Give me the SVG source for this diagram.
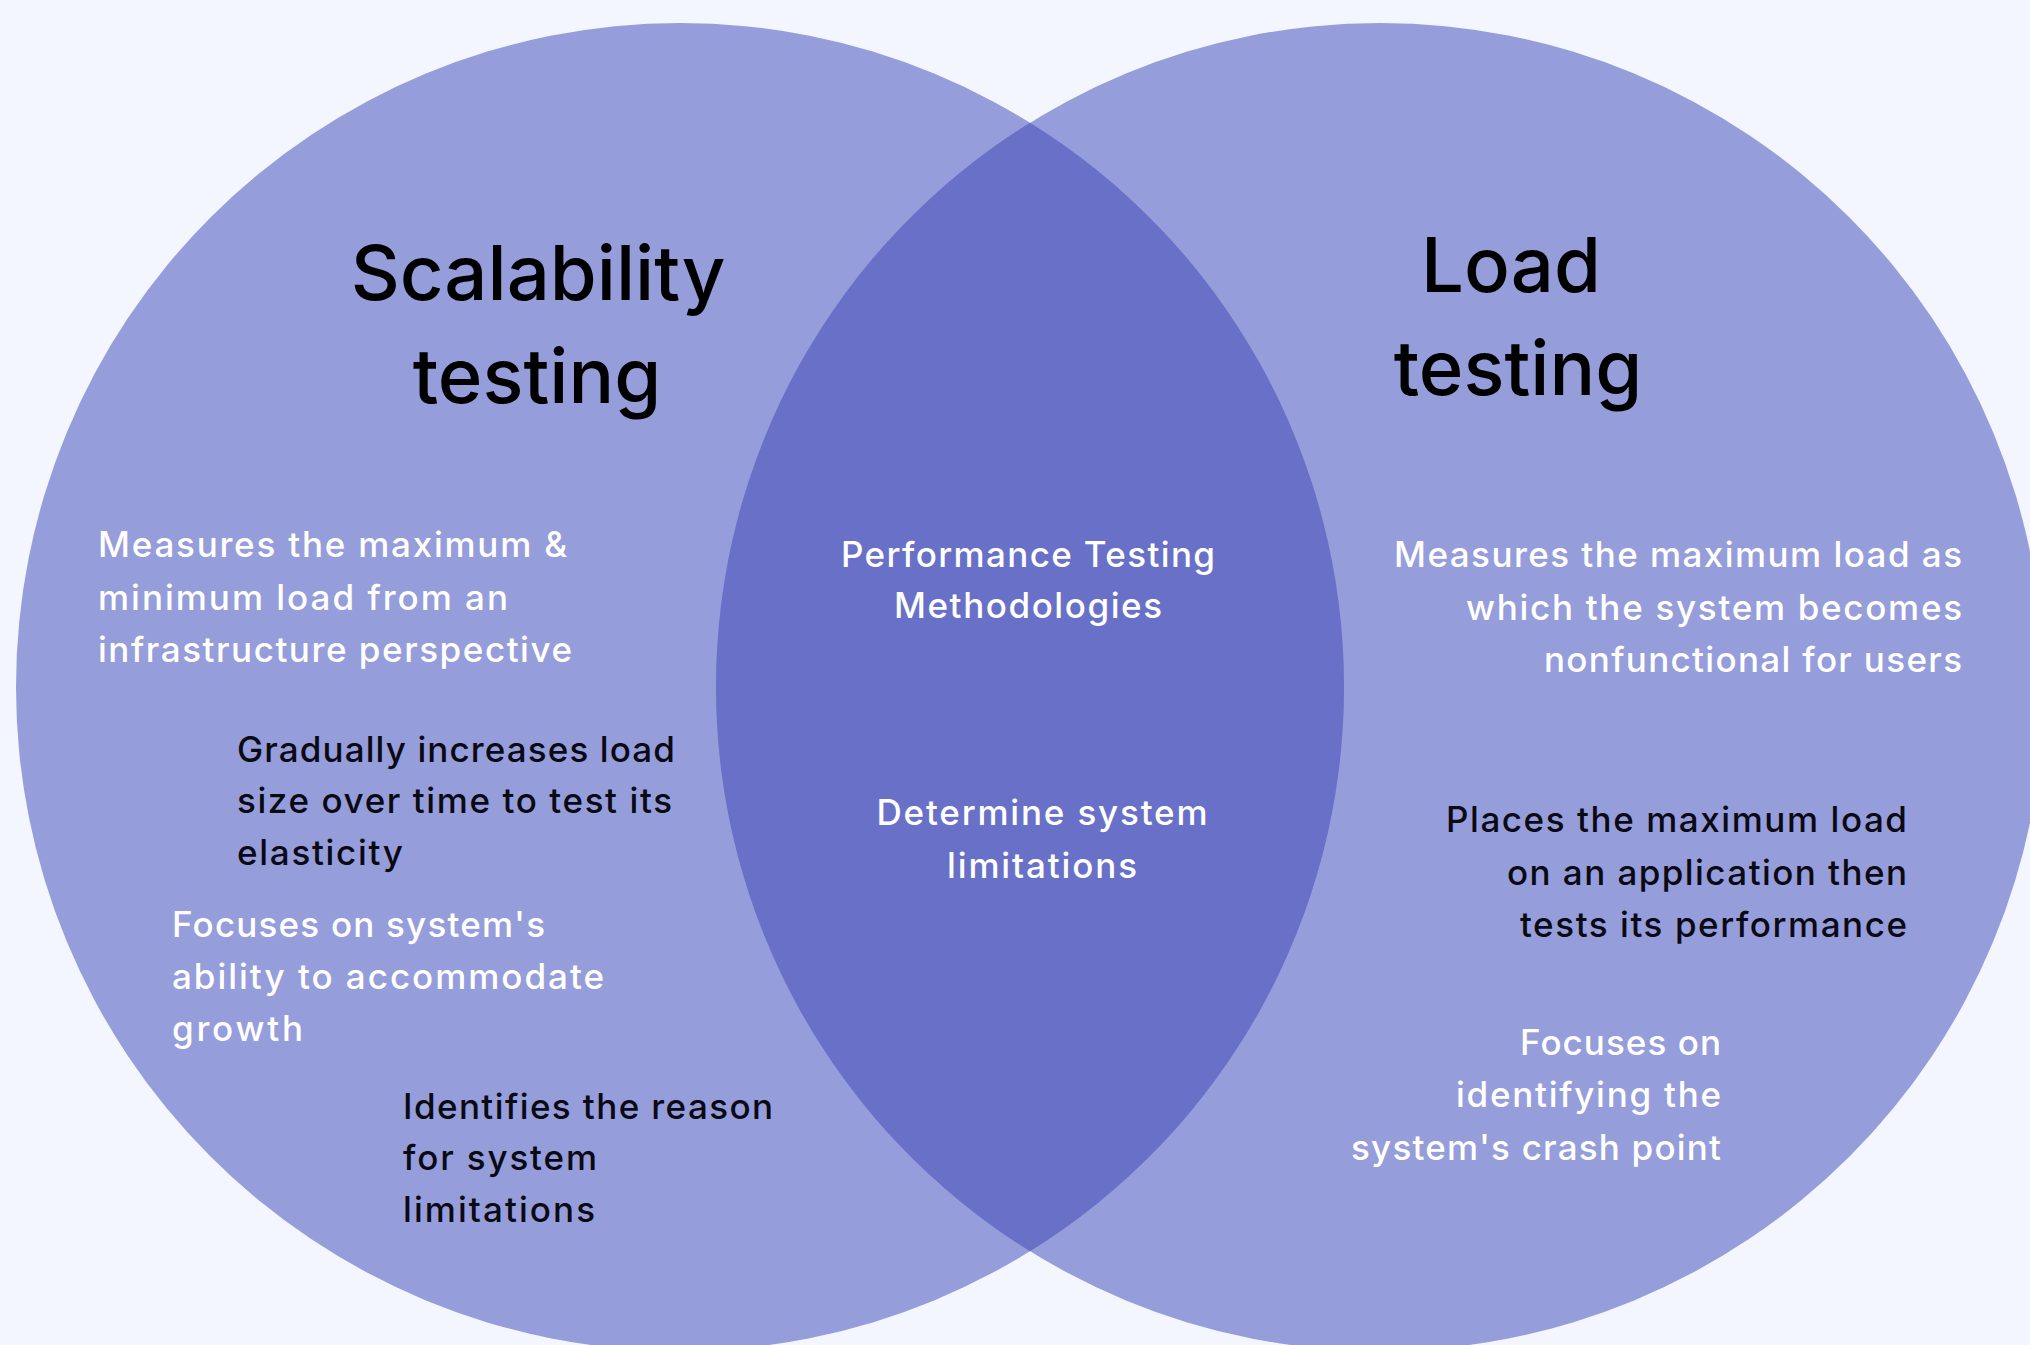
<svg xmlns="http://www.w3.org/2000/svg" width="2030" height="1345" viewBox="0 0 2030 1345">
<style>
.bg{fill:#f3f6fe}
.set{fill:#969ddb}
.lens{fill:#6870c8}
.title{font-family:Inter,"Liberation Sans",sans-serif;font-weight:500;font-size:76px;fill:#000;text-anchor:middle}
.t{font-family:Inter,"Liberation Sans",sans-serif;font-weight:500;font-size:35px}
.w{fill:#ffffff}
.k{fill:#0a0a14}
.mid{text-anchor:middle}
.end{text-anchor:end}
</style>
<rect class="bg" x="0" y="0" width="2030" height="1345"/>
<g id="set-scalability">
<circle class="set" cx="680" cy="687" r="664"/>
</g>
<g id="set-load">
<circle class="set" cx="1380" cy="687" r="664"/>
</g>
<g id="overlap">
<path class="lens" d="M1030 122.7 A664 664 0 0 1 1030 1251.3 A664 664 0 0 1 1030 122.7 Z"/>
</g>
<g id="connectors"></g>
<g id="title-scalability">
<text class="title" x="538" y="300">Scalability</text>
<text class="title" x="537" y="403">testing</text>
</g>
<g id="title-load">
<text class="title" x="1511" y="292">Load</text>
<text class="title" x="1518" y="395">testing</text>
</g>
<g id="scal-1">
<text class="t w" x="98" y="557" textLength="469" lengthAdjust="spacing">Measures the maximum &amp;</text>
<text class="t w" x="98" y="610" textLength="410" lengthAdjust="spacing">minimum load from an</text>
<text class="t w" x="98" y="662" textLength="474" lengthAdjust="spacing">infrastructure perspective</text>
</g>
<g id="scal-2">
<text class="t k" x="237" y="762" textLength="438" lengthAdjust="spacing">Gradually increases load</text>
<text class="t k" x="237" y="813" textLength="435" lengthAdjust="spacing">size over time to test its</text>
<text class="t k" x="237" y="865" textLength="166" lengthAdjust="spacing">elasticity</text>
</g>
<g id="scal-3">
<text class="t w" x="172" y="937" textLength="373" lengthAdjust="spacing">Focuses on system's</text>
<text class="t w" x="172" y="989" textLength="432" lengthAdjust="spacing">ability to accommodate</text>
<text class="t w" x="172" y="1041" textLength="131" lengthAdjust="spacing">growth</text>
</g>
<g id="scal-4">
<text class="t k" x="403" y="1119" textLength="370" lengthAdjust="spacing">Identifies the reason</text>
<text class="t k" x="403" y="1170" textLength="194" lengthAdjust="spacing">for system</text>
<text class="t k" x="403" y="1222" textLength="192" lengthAdjust="spacing">limitations</text>
</g>
<g id="common-1">
<text class="t w mid" x="1028" y="567" textLength="374" lengthAdjust="spacing">Performance Testing</text>
<text class="t w mid" x="1028" y="618" textLength="268" lengthAdjust="spacing">Methodologies</text>
</g>
<g id="common-2">
<text class="t w mid" x="1042" y="825" textLength="331" lengthAdjust="spacing">Determine system</text>
<text class="t w mid" x="1042" y="878" textLength="190" lengthAdjust="spacing">limitations</text>
</g>
<g id="load-1">
<text class="t w end" x="1962" y="567" textLength="568" lengthAdjust="spacing">Measures the maximum load as</text>
<text class="t w end" x="1962" y="620" textLength="496" lengthAdjust="spacing">which the system becomes</text>
<text class="t w end" x="1962" y="672" textLength="418" lengthAdjust="spacing">nonfunctional for users</text>
</g>
<g id="load-2">
<text class="t k end" x="1907" y="832" textLength="461" lengthAdjust="spacing">Places the maximum load</text>
<text class="t k end" x="1907" y="885" textLength="400" lengthAdjust="spacing">on an application then</text>
<text class="t k end" x="1907" y="937" textLength="387" lengthAdjust="spacing">tests its performance</text>
</g>
<g id="load-3">
<text class="t w end" x="1721" y="1055" textLength="201" lengthAdjust="spacing">Focuses on</text>
<text class="t w end" x="1721" y="1107" textLength="265" lengthAdjust="spacing">identifying the</text>
<text class="t w end" x="1721" y="1160" textLength="370" lengthAdjust="spacing">system's crash point</text>
</g>
</svg>
